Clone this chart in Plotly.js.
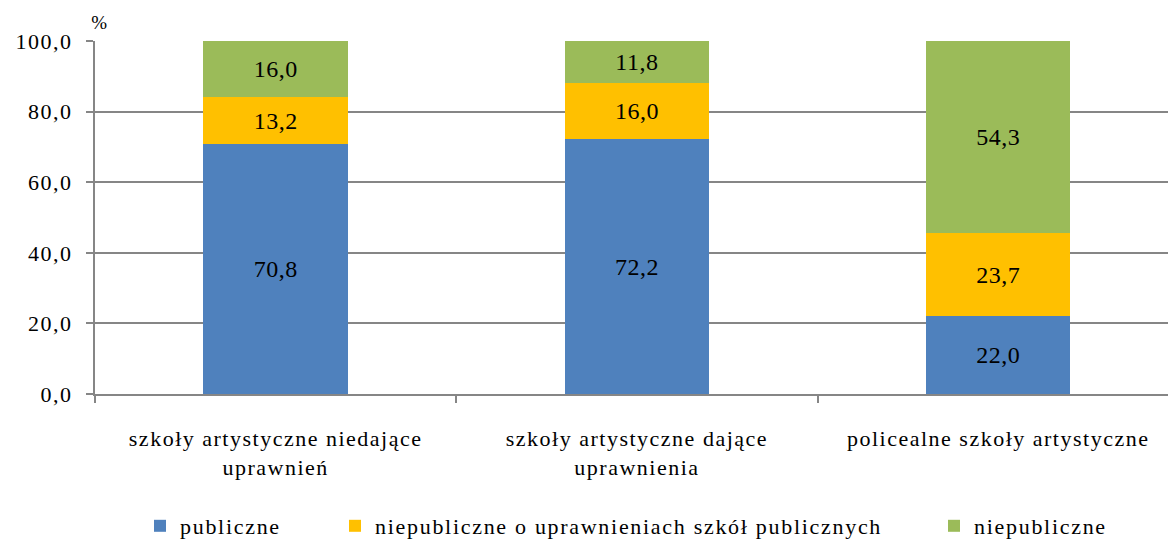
<!DOCTYPE html>
<html><head><meta charset="utf-8">
<script src="https://cdn.plot.ly/plotly-3.0.1.min.js"></script>
<style>
body{margin:0;padding:0;background:#fff}
#chart{width:1168px;height:547px}
#chart .xtick text, #chart .ytick text { letter-spacing: 1.5px; }
#chart .infolayer text { letter-spacing: 1.7px !important; }
#chart .infolayer g { clip-path: none !important; }
#chart .bartext { letter-spacing: 0.5px; }
</style>
</head><body><div id="chart"></div>
<script>
const categories = ["szkoły artystyczne niedające<br>uprawnień", "szkoły artystyczne dające<br>uprawnienia", "policealne szkoły artystyczne"];
const publiczne = [70.8, 72.2, 22.0];
const niepubliczneUpr = [13.2, 16.0, 23.7];
const niepubliczne = [16.0, 11.8, 54.3];
const seriesNames = ["publiczne", "niepubliczne o uprawnieniach szkół publicznych", "niepubliczne"];
const colors = ["#4F81BD", "#FFC000", "#9BBB59"];
const yTicks = [0, 20, 40, 60, 80, 100];

const FAM = "Liberation Serif";
const font = {family: FAM, size: 22, color: "#000"};
const labelFont = {family: FAM, size: 24, color: "#000"};
const vals = [publiczne, niepubliczneUpr, niepubliczne];
const legendIds = ["legend", "legend2", "legend3"];
const traces = vals.map((v, i) => ({
  type: "bar", x: categories, y: v, name: seriesNames[i],
  marker: {color: colors[i], line: {width: 0}},
  width: 0.4,
  text: v, texttemplate: "%{y:.1f}", textposition: "inside", insidetextanchor: "middle",
  textangle: 0, textfont: labelFont, constraintext: "none",
  legend: legendIds[i], hoverinfo: "skip"
}));
const legendBase = {orientation: "h", font: font, bgcolor: "rgba(0,0,0,0)", yanchor: "middle", xanchor: "left", y: -0.375, itemwidth: 30, tracegroupgap: 0};
const layout = {
  width: 1168, height: 547,
  margin: {l: 95, r: 0, t: 41, b: 149},
  separators: ",.",
  barmode: "stack",
  font: font,
  paper_bgcolor: "#fff", plot_bgcolor: "#fff",
  showlegend: true,
  legend: Object.assign({}, legendBase, {x: (140 - 95) / 1073}),
  legend2: Object.assign({}, legendBase, {x: (335 - 95) / 1073}),
  legend3: Object.assign({}, legendBase, {x: (934 - 95) / 1073}),
  xaxis: {
    range: [-0.5, 2.47], type: "category",
    showline: true, linecolor: "#868686", linewidth: 2,
    ticks: "outside", tickson: "boundaries", ticklen: 7, tickcolor: "#868686", tickwidth: 2,
    showgrid: false, tickfont: font, automargin: false, ticklabelstandoff: 24
  },
  yaxis: {
    range: [0, 100], tickvals: yTicks, tickformat: ".1f",
    showline: true, linecolor: "#868686", linewidth: 2,
    ticks: "outside", ticklen: 7, tickcolor: "#868686", tickwidth: 2,
    showgrid: true, gridcolor: "#868686", gridwidth: 2, zeroline: false,
    tickfont: font, automargin: false, ticklabelstandoff: 9
  },
  annotations: [{
    text: "%", xref: "paper", yref: "paper", x: 0, y: 1, xanchor: "left", yanchor: "bottom",
    xshift: -5, yshift: 6, showarrow: false, font: {family: FAM, size: 19, color: "#000"}
  }]
};
Plotly.newPlot("chart", traces, layout, {staticPlot: true, displayModeBar: false}).then(function () {
  document.querySelectorAll("#chart .legendtext").forEach(function (t) { t.style.letterSpacing = "1.7px"; });
});
</script></body></html>
